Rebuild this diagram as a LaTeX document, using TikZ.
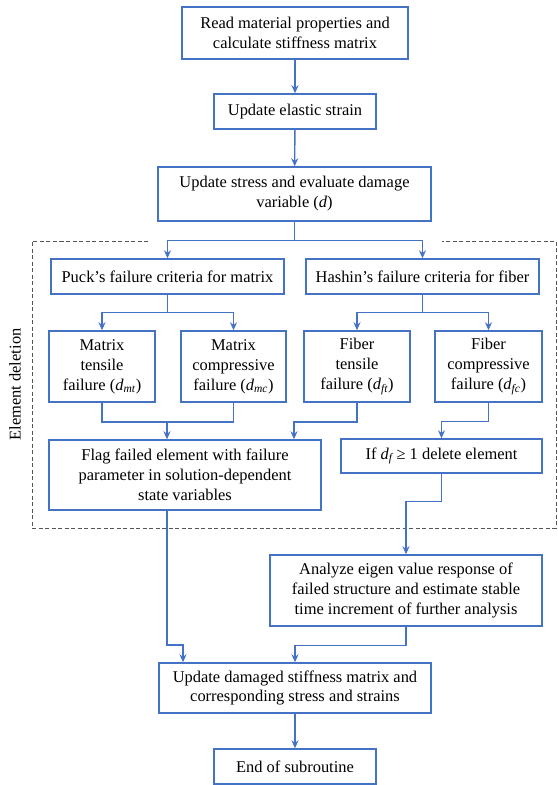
\documentclass[tikz,border=0pt]{standalone}
\usepackage{fontspec}
\setmainfont{Liberation Serif}
\usetikzlibrary{arrows.meta,calc}
\definecolor{flowblue}{HTML}{4472C4}
\definecolor{dashgray}{HTML}{555555}
\begin{document}
\begin{tikzpicture}[x=1bp,y=-1bp,
  box/.style={draw=flowblue,line width=1.5bp,fill=white,align=center,inner sep=2bp,
    font=\fontsize{16.5}{20}\selectfont},
  arr/.style={draw=flowblue,line width=1.4bp,-{Stealth[length=8bp,width=7bp]}},
  ln/.style={draw=flowblue,line width=1.4bp},
  frame/.style={draw=dashgray,line width=0.8bp,dash pattern=on 4bp off 2.5bp}]
\useasboundingbox (0,0) rectangle (558,785);
% nodes
\node[box,minimum width=226bp,minimum height=52bp] (n1) at (295,33) {Read material properties and\\calculate stiffness matrix};
\node[box,minimum width=162bp,minimum height=35bp] (n2) at (295,111.5) {Update elastic strain};
\node[box,minimum width=273bp,minimum height=54bp] (n3) at (294.5,194) {Update stress and evaluate damage\\variable (\textit{d})};
\node[box,minimum width=233bp,minimum height=35bp] (puck) at (167.5,276.5) {Puck’s failure criteria for matrix};
\node[box,minimum width=233bp,minimum height=35bp] (hashin) at (422.5,276.5) {Hashin’s failure criteria for fiber};
\node[box,minimum width=106bp,minimum height=71bp] (mt) at (102,366.5) {Matrix\\tensile\\failure (\textit{d}\textsubscript{\textit{mt}})};
\node[box,minimum width=105bp,minimum height=71bp] (mc) at (233.5,366.5) {Matrix\\compressive\\failure (\textit{d}\textsubscript{\textit{mc}})};
\node[box,minimum width=106bp,minimum height=71bp] (ft) at (357,366.5) {Fiber\\tensile\\failure (\textit{d}\textsubscript{\textit{ft}})};
\node[box,minimum width=107bp,minimum height=71bp] (fc) at (488.5,366.5) {Fiber\\compressive\\failure (\textit{d}\textsubscript{\textit{fc}})};
\node[box,minimum width=272bp,minimum height=70bp] (flag) at (185,475) {Flag failed element with failure\\parameter in solution-dependent\\state variables};
\node[box,minimum width=201bp,minimum height=34bp] (ifn) at (441.5,456) {If \textit{d}\textsubscript{\textit{f}}\,≥ 1 delete element};
\node[box,minimum width=272bp,minimum height=71bp] (analyze) at (406,590.5) {Analyze eigen value response of\\failed structure and estimate stable\\time increment of further analysis};
\node[box,minimum width=272bp,minimum height=50bp] (upd) at (295,688) {Update damaged stiffness matrix and\\corresponding stress and strains};
\node[box,minimum width=162bp,minimum height=35bp] (endn) at (295,766.5) {End of subroutine};
% dashed frame
\path[frame] (148,241) -- (32,241) -- (32,528) -- (556,528) -- (556,241) -- (442,241);
\node[rotate=90,font=\fontsize{16.5}{20}\selectfont] (lbl) at (15,384.5) {Element deletion};
% coordinates
\path (n3.south) ++(0,19) coordinate (b1);
\path (puck.south) ++(0,18) coordinate (b2);
\path (hashin.south) ++(0,18) coordinate (b3);
\coordinate (j1) at (167,422);
\coordinate (j2) at (294,422);
\coordinate (k1) at (167,645);
\coordinate (k2) at (183,645);
% connectors
\draw[arr] (n1) -- (n2);
\draw[arr] (n2) -- (n3);
\draw[ln] (n3.south) -- (b1);
\draw[arr] (b1) -| (puck.north);
\draw[arr] (b1) -| (hashin.north);
\draw[ln] (puck.south) -- (b2);
\draw[arr] (b2) -| (mt.north);
\draw[arr] (b2) -| (mc.north);
\draw[ln] (hashin.south) -- (b3);
\draw[arr] (b3) -| (ft.north);
\draw[arr] (b3) -| (fc.north);
\draw[ln] (mt.south) |- (j1);
\draw[ln] (mc.south) |- (j1);
\draw[arr] (j1) -- (j1 |- flag.north);
\draw[arr] (ft.south) |- (j2) -- (j2 |- flag.north);
\draw[arr] (fc.south) |- ($(ifn.north)+(0,-17)$) -- (ifn.north);
\draw[arr] (ifn.south) -- ++(0,28) -| (analyze.north);
\draw[arr] (j1 |- flag.south) -- (k1) -- (k2) -- (k2 |- upd.north);
\draw[arr] (analyze.south) -- ++(0,19) -| (upd.north);
\draw[arr] (upd) -- (endn);
\end{tikzpicture}
\end{document}
